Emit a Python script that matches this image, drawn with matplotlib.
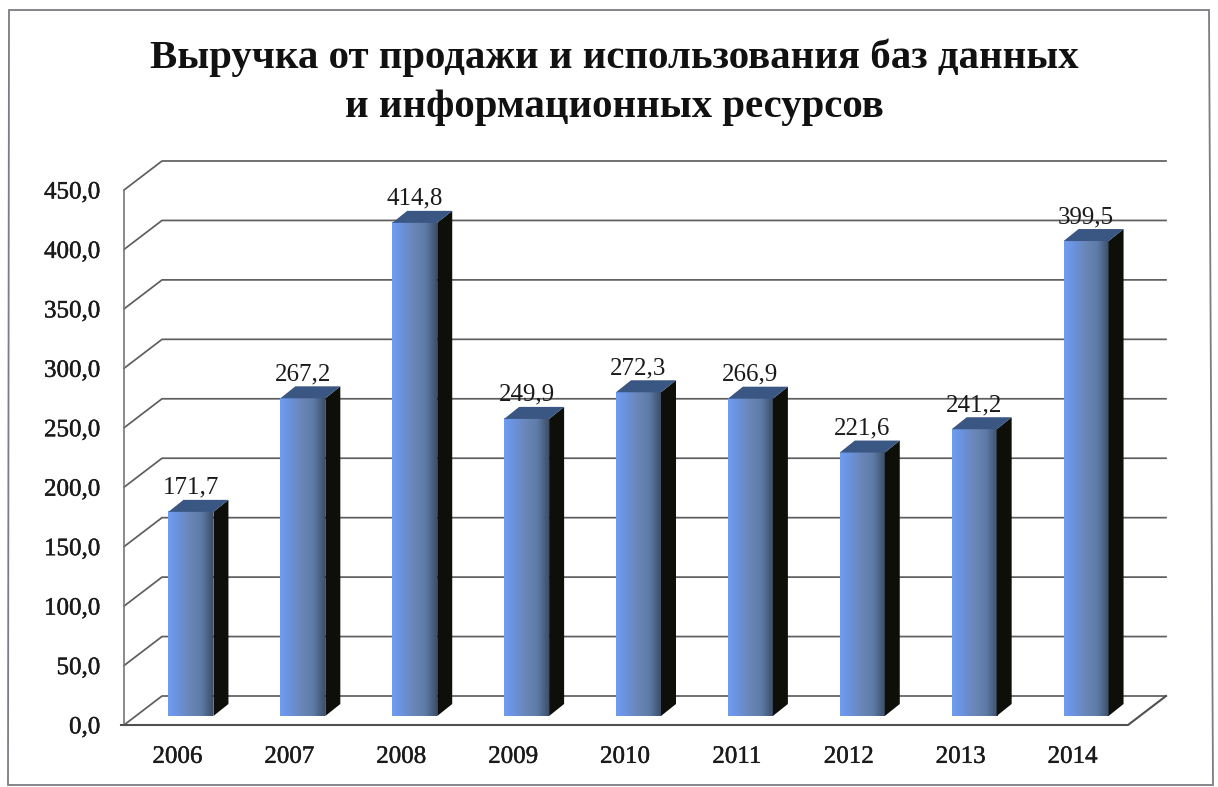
import numpy as np
import matplotlib
matplotlib.use('Agg')
import matplotlib.pyplot as plt
import matplotlib.patheffects as pe
from matplotlib.colors import LinearSegmentedColormap
from matplotlib.patches import Polygon
from matplotlib.transforms import ScaledTranslation

years = ['2006', '2007', '2008', '2009', '2010', '2011', '2012', '2013', '2014']
revenue = [171.7, 267.2, 414.8, 249.9, 272.3, 266.9, 221.6, 241.2, 399.5]
yticks = [0, 50, 100, 150, 200, 250, 300, 350, 400, 450]
title = 'Выручка от продажи и использования баз данных\nи информационных ресурсов'

W, H = 1218, 787
plt.rcParams['font.family'] = ['Liberation Serif', 'DejaVu Serif']

fig = plt.figure(figsize=(W / 100, H / 100), dpi=100, facecolor='white')
# plot area = front plane of the fake 3d box
ax = fig.add_axes([124 / W, 1 - 725 / H, 1007 / W, 535 / H])
ax.set_xlim(-0.5, 8.5)
ax.set_ylim(0, 450)

# pixel -> data sizes
px_x = 9 / 1007
px_y = 450 / 535
wall_dx, wall_dy = 38 * px_x, 29 * px_y
bar_dx, bar_dy = 11 * px_x, 9 * px_y
side_dx, side_dy = 15 * px_x, 12 * px_y
bar_w = 45 * px_x

grid_col = '#5e5e5e'
x0, x1 = -0.5, 8.5 - 3 * px_x
for v in yticks:
    ax.plot([x0, x0 + wall_dx, x1 + wall_dx], [v, v + wall_dy, v + wall_dy],
            color=grid_col, lw=1.25, clip_on=False, zorder=1)
ax.plot([x0, x0], [0, 450], color='#77777f', lw=1.2, clip_on=False, zorder=1)
ax.plot([x0 - 3 * px_x, x1, x1 + wall_dx], [0, 0, wall_dy], color='#505050', lw=1.5,
        clip_on=False, zorder=1)

face_cmap = LinearSegmentedColormap.from_list(
    'face', ['#6f9df0', '#6b90d8', '#6a86b5', '#5d7aa8', '#3f4f68'])
grad = np.linspace(0, 1, 64).reshape(1, -1)

for i, val in enumerate(revenue):
    left = i - bar_w / 2 + bar_dx
    right = left + bar_w
    ax.imshow(grad, cmap=face_cmap, aspect='auto', zorder=3,
              extent=[left, right, bar_dy, val + bar_dy])
    side = Polygon([(right, bar_dy), (right + side_dx, bar_dy + side_dy),
                    (right + side_dx, val + bar_dy + side_dy), (right, val + bar_dy)],
                   facecolor='#0f0f0a', edgecolor='none', zorder=3, clip_on=False)
    ax.add_patch(side)
    top = Polygon([(left, val + bar_dy), (right, val + bar_dy),
                   (right + side_dx, val + bar_dy + side_dy), (left + side_dx, val + bar_dy + side_dy)],
                  facecolor='#3a5683', edgecolor='none', zorder=3, clip_on=False)
    ax.add_patch(top)
    ax.text(i + bar_dx, val + bar_dy + side_dy + 12 * px_y, f'{val:.1f}'.replace('.', ','),
            ha='center', va='center', fontsize=18, color='#1a1a1a', zorder=5, clip_on=False)

ax.set_xlim(-0.5, 8.5)
ax.set_ylim(0, 450)
ax.set_xticks(range(len(years)), years)
ax.set_yticks(yticks, [f'{v:.1f}'.replace('.', ',') for v in yticks])
ax.tick_params(axis='both', length=0, labelsize=18, labelcolor='#1a1a1a')
ax.tick_params(axis='y', pad=17)
ax.tick_params(axis='x', pad=15)
# the scan thickens the axis labels a little
for lab in ax.get_yticklabels() + ax.get_xticklabels():
    lab.set_path_effects([pe.withStroke(linewidth=0.3, foreground='#1a1a1a')])
# year labels sit a touch left of the bars
shift = ScaledTranslation(-2.5 / 100, 0, fig.dpi_scale_trans)
for lab in ax.get_xticklabels():
    lab.set_transform(lab.get_transform() + shift)
ax.patch.set_alpha(0)
for s in ax.spines.values():
    s.set_visible(False)

fig.text(614 / W, 1 - 82 / H, title, ha='center', va='center', fontsize=29.4, fontweight='bold',
         color='#111111', linespacing=1.42)

# outer frame of the scanned chart
fig.add_artist(Polygon([(9 / W, 1 - 10 / H), (1209 / W, 1 - 10 / H), (1213 / W, 1 - 785 / H),
                        (8 / W, 1 - 785 / H)], closed=True, transform=fig.transFigure,
                       facecolor='none', edgecolor='#7c7c84', lw=1.3, zorder=0))

fig.savefig('out.png', dpi=100)
